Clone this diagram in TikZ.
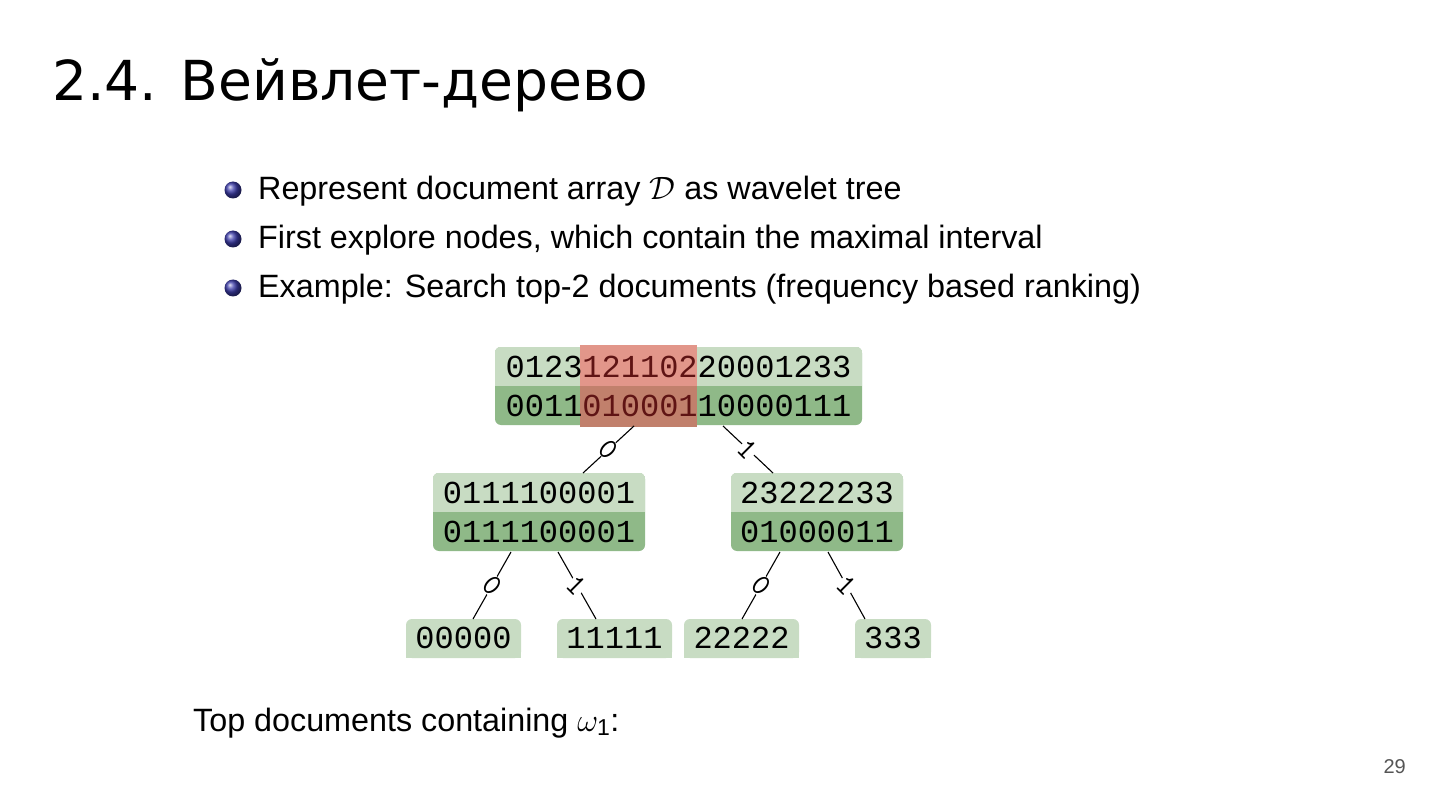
\RequirePackage{fix-cm}
\documentclass[tikz,border=0pt]{standalone}
\usepackage{fontspec}
\setmainfont{Liberation Sans}
\newfontfamily\titlefont{DejaVu Sans}
\newfontfamily\treefont{Liberation Mono}
\usetikzlibrary{calc}
\definecolor{lgreen}{RGB}{200,220,195}
\definecolor{dgreen}{RGB}{143,185,136}
\definecolor{redtop}{RGB}{226,150,138}
\definecolor{redbot}{RGB}{193,128,108}
\definecolor{dred}{RGB}{95,20,20}
\definecolor{bulletblue}{RGB}{60,60,170}
\definecolor{pagegray}{RGB}{85,85,85}
\tikzset{
  treebox/.style={rectangle, rounded corners=6pt, fill=dgreen, inner sep=0pt},
  leafbox/.style={rectangle, rounded corners=6pt, fill=lgreen, inner sep=0pt, minimum height=39pt},
  treetext/.style={anchor=base, inner sep=0pt, font=\treefont\fontsize{32}{36}\selectfont, text=black},
  edgelabel/.style={font=\ttfamily\fontsize{30}{32}\selectfont, fill=white, inner sep=0.3pt, rotate=-45},
  treeedge/.style={draw=black, line width=1.1pt},
  bulletball/.style={circle, minimum size=17pt, inner sep=0pt, shading=ball, ball color=bulletblue},
  bullettext/.style={anchor=base west, inner sep=0pt, font=\fontsize{32.3}{38}\selectfont},
}
\begin{document}
\begin{tikzpicture}[x=1pt,y=-1pt]
\useasboundingbox[fill=white] (0,0) rectangle (1440,810);

% title
\node[anchor=base west, inner sep=0pt, font=\titlefont\fontsize{55.1}{64}\selectfont] (title) at (52,101) {2.4. Вейвлет-дерево};

% bullets
\node[bulletball] (b1) at (233,190) {};
\node[bulletball] (b2) at (233,239) {};
\node[bulletball] (b3) at (233,288) {};
\node[bullettext] (t1) at (258,200) {Represent document array $\mathcal{D}$ as wavelet tree};
\node[bullettext] (t2) at (258,249) {First explore nodes, which contain the maximal interval};
\node[bullettext] (t3) at (258,298) {Example: Search top-2 documents (frequency based ranking)};

% top node
\node[treebox, minimum width=367pt, minimum height=78pt] (top) at (678.5,386) {};
\begin{scope}
  \clip[rounded corners=6pt] (top.north west) rectangle (top.south east);
  \fill[lgreen] (top.north west) rectangle (top.east);
\end{scope}
\fill[redtop] (580,345) rectangle (697,386);
\fill[redbot] (580,386) rectangle (697,427);
\node[treetext] (top1) at (678.5,377) {0123\textcolor{dred}{121102}20001233};
\node[treetext] (top2) at (678.5,416) {0011\textcolor{dred}{010001}10000111};

% middle left
\node[treebox, minimum width=212pt, minimum height=78pt] (midL) at (539,512) {};
\begin{scope}
  \clip[rounded corners=6pt] (midL.north west) rectangle (midL.south east);
  \fill[lgreen] (midL.north west) rectangle (midL.east);
\end{scope}
\node[treetext] (midL1) at (539,503) {0111100001};
\node[treetext] (midL2) at (539,542) {0111100001};

% middle right
\node[treebox, minimum width=172pt, minimum height=78pt] (midR) at (817,512) {};
\begin{scope}
  \clip[rounded corners=6pt] (midR.north west) rectangle (midR.south east);
  \fill[lgreen] (midR.north west) rectangle (midR.east);
\end{scope}
\node[treetext] (midR1) at (817,503) {23222233};
\node[treetext] (midR2) at (817,542) {01000011};

% leaves
\node[leafbox, minimum width=115pt] (leafA) at (463.5,638.5) {};
\node[leafbox, minimum width=115pt] (leafB) at (614.5,638.5) {};
\node[leafbox, minimum width=115pt] (leafC) at (741.5,638.5) {};
\node[leafbox, minimum width=76pt] (leafD) at (893,638.5) {};
\foreach \l in {leafA,leafB,leafC,leafD}{
  \fill[lgreen] (\l.west) rectangle (\l.south east);
}
\node[treetext] (leafA1) at (463.5,648) {00000};
\node[treetext] (leafB1) at (614.5,648) {11111};
\node[treetext] (leafC1) at (741.5,648) {22222};
\node[treetext] (leafD1) at (893,648) {333};

% edge endpoints
\coordinate (e1s) at (634,426); \coordinate (e1t) at (583,473);
\coordinate (e2s) at (723,426); \coordinate (e2t) at (773,473);
\coordinate (e3s) at (511,552); \coordinate (e3t) at (473,619);
\coordinate (e4s) at (558,552); \coordinate (e4t) at (596,619);
\coordinate (e5s) at (780,552); \coordinate (e5t) at (742,619);
\coordinate (e6s) at (828,552); \coordinate (e6t) at (865,619);

\draw[treeedge] (e1s) -- node[edgelabel] (l1) {0} (e1t);
\draw[treeedge] (e2s) -- node[edgelabel] (l2) {1} (e2t);
\draw[treeedge] (e3s) -- node[edgelabel] (l3) {0} (e3t);
\draw[treeedge] (e4s) -- node[edgelabel] (l4) {1} (e4t);
\draw[treeedge] (e5s) -- node[edgelabel] (l5) {0} (e5t);
\draw[treeedge] (e6s) -- node[edgelabel] (l6) {1} (e6t);

% bottom text
\node[bullettext] (bottom) at (193,731) {Top documents containing $\omega_{\hbox{\fontsize{23}{25}\selectfont 1}}$:};

% page number
\node[anchor=base east, inner sep=0pt, font=\fontsize{20}{24}\selectfont, text=pagegray] (page) at (1406,773) {29};
\end{tikzpicture}
\end{document}
